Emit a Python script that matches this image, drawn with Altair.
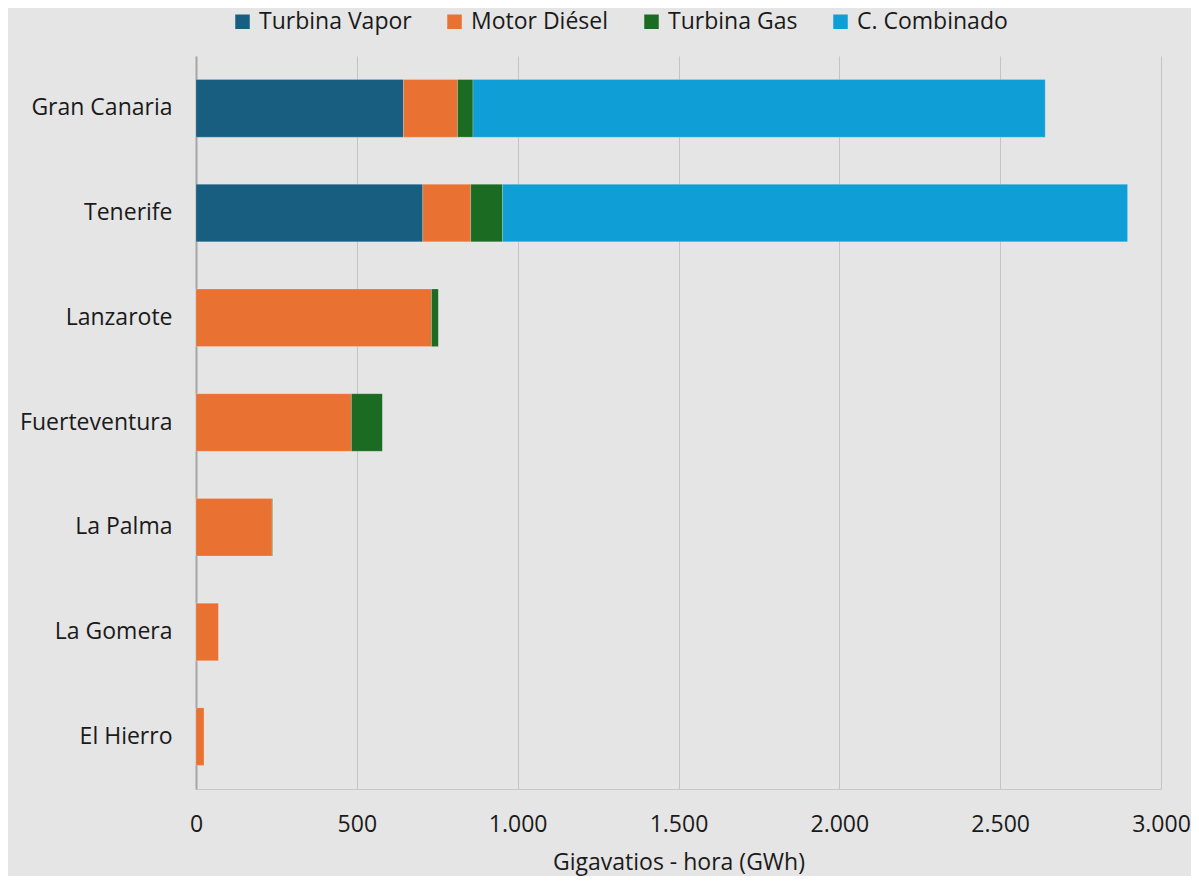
import altair as alt
import pandas as pd

islands = ["Gran Canaria", "Tenerife", "Lanzarote", "Fuerteventura", "La Palma", "La Gomera", "El Hierro"]
series = ["Turbina Vapor", "Motor Diésel", "Turbina Gas", "C. Combinado"]
colors = ["#175e80", "#e97132", "#1b6b22", "#0f9ed5"]

vapor = [645, 705, 0, 0, 0, 0, 0]
diesel = [168, 149, 732, 483, 237, 71, 26]
gas = [48, 99, 22, 97, 2, 0, 0]
combinado = [1779, 1943, 0, 0, 0, 0, 0]

x_ticks = [0, 500, 1000, 1500, 2000, 2500, 3000]

rows = []
for vals, s in zip([vapor, diesel, gas, combinado], series):
    for isl, v in zip(islands, vals):
        rows.append({"isla": isl, "tipo": s, "valor": v, "orden": series.index(s)})
df = pd.DataFrame(rows)

FONT = "Open Sans"
FS = 23

chart = alt.Chart(df).mark_bar(
    stroke="#ffffff", strokeWidth=0.8, strokeOpacity=0.25
).encode(
    y=alt.Y("isla:N", sort=islands,
            scale=alt.Scale(paddingInner=0.45, paddingOuter=0.225),
            axis=alt.Axis(title=None, ticks=False, labelPadding=24, labelFontSize=FS,
                          labelFont=FONT, labelColor="#1a1a1a", domainColor="#a6a6a6",
                          domainWidth=2, grid=False)),
    x=alt.X("valor:Q", stack="zero",
            scale=alt.Scale(domain=[0, 3000], nice=False),
            axis=alt.Axis(title="Gigavatios - hora (GWh)", values=x_ticks, ticks=False,
                          labelExpr="replace(format(datum.value, ','), ',', '.')",
                          labelFlush=False, labelOverlap=False,
                          labelPadding=24, labelFontSize=FS, labelFont=FONT,
                          labelColor="#1a1a1a", titleFont=FONT, titleFontSize=23,
                          titleFontWeight="normal", titleColor="#1a1a1a", titlePadding=15,
                          domainColor="#c8c8c8", domainWidth=1,
                          grid=True, gridColor="#c4c4c4", gridWidth=1)),
    color=alt.Color("tipo:N", scale=alt.Scale(domain=series, range=colors),
                    legend=alt.Legend(title=None, orient="none", direction="horizontal",
                                      legendX=35, legendY=-46, symbolType="square",
                                      symbolSize=210, symbolStrokeWidth=0,
                                      labelFontSize=FS, labelFont=FONT, labelColor="#1a1a1a",
                                      columnPadding=31, labelOffset=5, padding=0,
                                      labelLimit=300)),
    order=alt.Order("orden:Q"),
).properties(
    width=965, height=733,
    autosize=alt.AutoSizeParams(type="none"),
    padding={"left": 188, "top": 48, "right": 30, "bottom": 87},
    background="#e5e5e5",
).configure_view(stroke=None)

chart.save("out.html", embed_options={"renderer": "svg", "actions": False})
